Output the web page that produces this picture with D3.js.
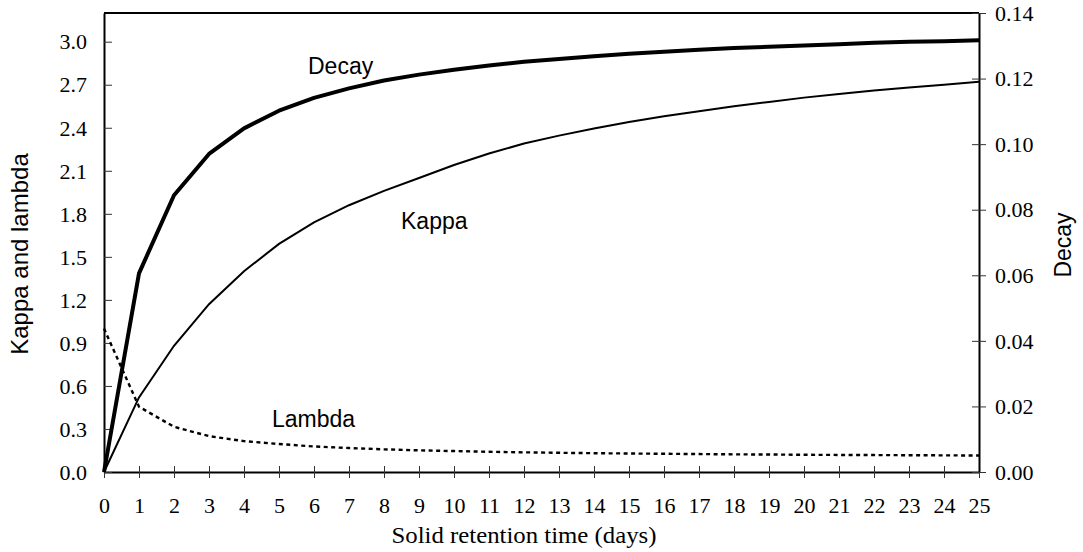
<!DOCTYPE html>
<html><head><meta charset="utf-8">
<script src="https://cdn.jsdelivr.net/npm/d3@7"></script>
<style>body{margin:0;background:#fff}</style>
</head><body>
<svg id="c" width="1083" height="552"></svg>
<script>
// Solid retention time (days)
const srt = [0,1,2,3,4,5,6,7,8,9,10,11,12,13,14,15,16,17,18,19,20,21,22,23,24,25];
// Kappa (left axis)
const kappa = [0,0.52,0.88,1.17,1.40,1.59,1.74,1.86,1.96,2.05,2.14,2.22,2.29,2.345,2.395,2.44,2.48,2.515,2.55,2.58,2.61,2.635,2.66,2.68,2.70,2.72];
// Lambda (left axis)
const lambda = [1.00,0.455,0.315,0.250,0.215,0.195,0.178,0.167,0.158,0.151,0.146,0.141,0.137,0.134,0.131,0.129,0.127,0.125,0.123,0.122,0.120,0.119,0.118,0.117,0.116,0.115];
// Decay (right axis)
const decay = [0,0.0606,0.0844,0.0970,0.1048,0.1102,0.1141,0.1170,0.1194,0.1212,0.1227,0.1240,0.1251,0.1260,0.1268,0.1276,0.1282,0.1288,0.1293,0.1297,0.1301,0.1305,0.1309,0.1312,0.1314,0.1317];

const xTicks = srt;
const leftTicks = [0,0.3,0.6,0.9,1.2,1.5,1.8,2.1,2.4,2.7,3.0];
const rightTicks = [0,0.02,0.04,0.06,0.08,0.10,0.12,0.14];

const L = 104, R = 979, T = 13, B = 472;
const svg = d3.select("#c");
const x = d3.scaleLinear().domain([0,25]).range([L,R]);
const yL = d3.scaleLinear().domain([0,3.2]).range([B,T]);
const yR = d3.scaleLinear().domain([0,0.14]).range([B,T]);

const serif = "'Liberation Serif','Times New Roman',serif";
const sans = "'Liberation Sans',Arial,sans-serif";

// frame (top line)
svg.append("line").attr("x1",L).attr("x2",R).attr("y1",T).attr("y2",T)
  .attr("stroke","#000").attr("stroke-width",2);

// axes
const gx = svg.append("g").attr("transform",`translate(0,${B})`)
  .call(d3.axisBottom(x).tickValues(xTicks).tickFormat(d3.format("d")).tickSize(6).tickSizeOuter(0));
gx.selectAll(".tick line").attr("y1",-6).attr("y2",6);
gx.selectAll(".tick text").attr("y",0).attr("dy",0).attr("transform","translate(0,41)");

const gl = svg.append("g").attr("transform",`translate(${L},0)`)
  .call(d3.axisLeft(yL).tickValues(leftTicks).tickFormat(d3.format(".1f")).tickSize(-8).tickSizeOuter(0).tickPadding(17));

const gr = svg.append("g").attr("transform",`translate(${R},0)`)
  .call(d3.axisRight(yR).tickValues(rightTicks).tickFormat(d3.format(".2f")).tickSize(7).tickSizeOuter(0).tickPadding(9));
gr.selectAll(".tick line").attr("x1",-7).attr("x2",7);

[gx,gl,gr].forEach(g=>{
  g.select(".domain").attr("stroke","#000").attr("stroke-width",2);
  g.selectAll(".tick line").attr("stroke","#333").attr("stroke-width",1);
  g.selectAll(".tick text").attr("font-family",serif).attr("font-size",22).attr("fill","#000");
});
gl.selectAll(".tick text").attr("dy","0.33em");
gr.selectAll(".tick text").attr("dy","0.33em");

// series
const lineL = d3.line().x((d,i)=>x(srt[i])).y(d=>yL(d));
const lineR = d3.line().x((d,i)=>x(srt[i])).y(d=>yR(d));

svg.append("path").datum(kappa).attr("d",lineL).attr("fill","none")
  .attr("stroke","#000").attr("stroke-width",2);
svg.append("path").datum(lambda).attr("d",lineL).attr("fill","none")
  .attr("stroke","#000").attr("stroke-width",2.4).attr("stroke-dasharray","4,3.5");
svg.append("path").datum(decay).attr("d",lineR).attr("fill","none")
  .attr("stroke","#000").attr("stroke-width",4).attr("stroke-linejoin","round");

// annotations
svg.append("text").attr("x",308).attr("y",74).text("Decay")
  .attr("font-family",sans).attr("font-size",23);
svg.append("text").attr("x",401).attr("y",229).text("Kappa")
  .attr("font-family",sans).attr("font-size",23);
svg.append("text").attr("x",272).attr("y",427).text("Lambda")
  .attr("font-family",sans).attr("font-size",23);

// axis titles
svg.append("text").attr("x",524).attr("y",543).attr("text-anchor","middle")
  .attr("font-family",serif).attr("font-size",24)
  .attr("textLength",265).attr("lengthAdjust","spacingAndGlyphs")
  .text("Solid retention time (days)");
svg.append("text").attr("transform","translate(28,254) rotate(-90)").attr("text-anchor","middle")
  .attr("font-family",sans).attr("font-size",24).text("Kappa and lambda");
svg.append("text").attr("transform","translate(1071,245) rotate(-90)").attr("text-anchor","middle")
  .attr("font-family",sans).attr("font-size",23).text("Decay");
</script>
</body></html>
